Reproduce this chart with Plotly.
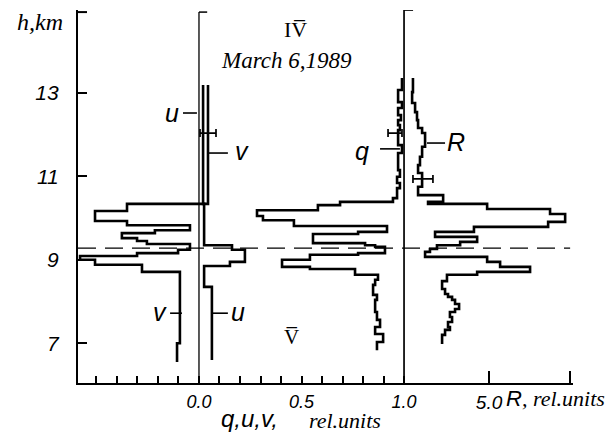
import plotly.graph_objects as go

# ---------------- data ----------------
# step profiles: values[i] holds between bounds[i] (top) and bounds[i+1] (bottom), h in km
V_BOUNDS = [13.19, 10.34, 10.17, 9.93, 9.83, 9.71, 9.64, 9.52, 9.45, 9.38, 9.24,
            9.16, 9.09, 9.00, 8.88, 8.71, 7.00, 6.55]
V_VALUES = [0.044, -0.351, -0.507, -0.351, -0.044, -0.215, -0.376, -0.302, -0.254,
            -0.044, -0.102, -0.302, -0.580, -0.507, -0.278, -0.093, -0.107]

U_BOUNDS = [13.19, 10.34, 9.35, 9.24, 8.95, 8.85, 8.35, 6.60]
U_VALUES = [0.020, 0.025, 0.161, 0.224, 0.151, 0.025, 0.063]

Q_BOUNDS = [13.36, 13.07, 12.78, 12.64, 12.47, 12.35, 12.23, 12.11, 11.75, 11.56,
            11.15, 10.99, 10.84, 10.72, 10.48, 10.39, 10.31, 10.19, 10.05, 9.95,
            9.81, 9.67, 9.62, 9.40, 9.35, 9.31, 9.16, 9.12, 9.00, 8.83, 8.78,
            8.64, 8.52, 8.40, 8.16, 8.04, 7.75, 7.56, 7.39, 7.22, 7.03, 6.83]
Q_VALUES = [0.990, 0.971, 0.990, 0.971, 0.985, 0.971, 0.980, 0.971, 0.990, 0.971,
            0.980, 0.966, 0.980, 0.966, 0.946, 0.688, 0.580, 0.283, 0.312, 0.463,
            0.917, 0.776, 0.556, 0.810, 0.859, 0.907, 0.776, 0.541, 0.405, 0.541,
            0.761, 0.873, 0.859, 0.849, 0.868, 0.859, 0.868, 0.883, 0.859, 0.898,
            0.868]

R_BOUNDS = [13.36, 13.02, 12.76, 12.54, 12.35, 12.16, 12.04, 11.71, 11.47, 11.27,
            11.08, 10.75, 10.55, 10.39, 10.34, 10.22, 10.10, 9.91, 9.79, 9.67,
            9.55, 9.43, 9.35, 9.26, 9.19, 9.07, 8.95, 8.83, 8.71, 8.64, 8.49,
            8.30, 8.18, 8.11, 8.04, 7.94, 7.82, 7.75, 7.63, 7.51, 7.39, 7.32,
            7.20, 6.98]
R_VALUES = [1.42, 1.38, 1.52, 1.61, 1.66, 1.85, 1.99, 1.85, 1.75, 1.66,
            1.85, 1.66, 2.84, 2.13, 4.91, 7.87, 8.58, 7.78, 4.29, 2.46,
            4.44, 3.64, 2.55, 2.22, 1.99, 4.91, 5.52, 6.93, 4.44, 3.02,
            2.79, 2.93, 3.07, 3.26, 3.40, 3.59, 3.40, 3.16, 3.26, 3.07,
            3.16, 2.93, 2.79]

# error bars: (height, centre, half-width)
V_ERR = (12.04, 0.044, 0.039)
Q_ERR = (12.04, 0.956, 0.034)
R_ERR = (10.94, 1.89, 0.47)

TROPOPAUSE_H = 9.28

X_TICKS = [-0.5, -0.4, -0.3, -0.2, -0.1, 0.0, 0.1, 0.2, 0.3, 0.4, 0.5, 0.6, 0.7, 0.8, 0.9, 1.0]
X_TICK_LABELS = ["", "", "", "", "", "0.0", "", "", "", "", "0.5", "", "", "", "", "1.0"]
R_TICKS = [5.0, 8.8]
R_TICK_LABELS = ["5.0", ""]
H_TICKS = [7, 9, 11, 13]

X_RANGE = [-0.59, 1.824]
R_RANGE = [-14.34, 8.95]
H_RANGE = [6.046, 14.99]

SANS = "Liberation Sans"
SERIF = "Liberation Serif"


def steps(bounds, values):
    xs, ys = [], []
    for i, v in enumerate(values):
        xs += [v, v]
        ys += [bounds[i], bounds[i + 1]]
    return xs, ys


fig = go.Figure()
LW = 2.6
for b, v, ax in [(V_BOUNDS, V_VALUES, "x"), (U_BOUNDS, U_VALUES, "x"),
                 (Q_BOUNDS, Q_VALUES, "x"), (R_BOUNDS, R_VALUES, "x2")]:
    xs, ys = steps(b, v)
    fig.add_trace(go.Scatter(x=xs, y=ys, mode="lines", xaxis=ax, yaxis="y",
                             line=dict(color="black", width=LW), hoverinfo="skip"))

for (h, c, e), ax in [(V_ERR, "x"), (Q_ERR, "x"), (R_ERR, "x2")]:
    fig.add_trace(go.Scatter(x=[c], y=[h], mode="markers", xaxis=ax, yaxis="y",
                             marker=dict(size=1, color="rgba(0,0,0,0)"),
                             error_x=dict(type="data", array=[e], visible=True,
                                          color="black", thickness=1.7, width=4),
                             hoverinfo="skip"))

shapes = []
# vertical reference axes at 0.0 and 1.0
shapes.append(dict(type="line", xref="x", yref="y", x0=0, x1=0, y0=H_RANGE[0], y1=14.94,
                   line=dict(color="black", width=1.3)))
shapes.append(dict(type="line", xref="x", yref="y", x0=0, x1=0.04, y0=14.94, y1=14.94,
                   line=dict(color="black", width=1.5)))
shapes.append(dict(type="line", xref="x", yref="y", x0=1.0, x1=1.0, y0=H_RANGE[0], y1=14.99,
                   line=dict(color="black", width=1.7)))
shapes.append(dict(type="line", xref="x", yref="y", x0=1.0, x1=1.044, y0=14.99, y1=14.99,
                   line=dict(color="black", width=1.7)))
shapes.append(dict(type="line", xref="x", yref="y", x0=X_RANGE[0], x1=X_RANGE[0] + 0.044,
                   y0=14.94, y1=14.94, line=dict(color="black", width=2)))
# tropopause dashed line
shapes.append(dict(type="line", xref="x", yref="y", x0=X_RANGE[0], x1=1.81,
                   y0=TROPOPAUSE_H, y1=TROPOPAUSE_H,
                   line=dict(color="black", width=1.3, dash="18px,9px")))

# curve labels with leader dashes
labels = [
    ("u", -0.132, 12.52, (-0.078, -0.01, 12.52)),
    ("v", 0.21, 11.61, (0.044, 0.141, 11.56)),
    ("v", -0.19, 7.75, (-0.141, -0.083, 7.72)),
    ("u", 0.19, 7.75, (0.063, 0.141, 7.72)),
    ("q", 0.795, 11.61, (0.883, 0.98, 11.66)),
    ("R", 1.254, 11.82, (1.112, 1.20, 11.80)),
]
annotations = []
for txt, x, y, (lx0, lx1, ly) in labels:
    annotations.append(dict(text=txt, x=x, y=y, xref="x", yref="y", showarrow=False,
                            xanchor="center", yanchor="middle",
                            font=dict(family=SANS, size=25, style="italic", color="black")))
    shapes.append(dict(type="line", xref="x", yref="y", x0=lx0, x1=lx1, y0=ly, y1=ly,
                       line=dict(color="black", width=1.6)))


def note(text, x, y, family, size, italic=True, xref="paper", yref="paper", xanchor="center"):
    return dict(text=text, x=x, y=y, xref=xref, yref=yref, showarrow=False,
                xanchor=xanchor, yanchor="middle",
                font=dict(family=family, size=size, style="italic" if italic else "normal",
                          color="black"))


annotations += [
    note("h,km", -0.077, 0.968, SERIF, 24),
    note("March 6,1989", 0.429, 13.77, SERIF, 23, xref="x", yref="y"),
    note("IV\u0305", 0.473, 14.53, SERIF, 22, italic=False, xref="x", yref="y"),
    note("V\u0305", 0.449, 7.15, SERIF, 21, italic=False, xref="x", yref="y"),
    note("q,u,v,", 0.347, -0.095, SANS, 24),
    note("rel.units", 0.540, -0.101, SERIF, 22),
    note('<span style="font-family:\'Liberation Sans\';font-size:22px">R</span>, rel.units',
         0.860, -0.042, SERIF, 22, xanchor="left"),
]

fig.update_layout(
    width=615, height=434,
    margin=dict(l=70, r=50, t=2, b=59),
    paper_bgcolor="white", plot_bgcolor="white",
    showlegend=False,
    xaxis=dict(range=X_RANGE, tickvals=X_TICKS, ticktext=X_TICK_LABELS, automargin=False,
               ticks="inside", ticklen=7, tickwidth=1.8, tickcolor="black",
               showline=True, linewidth=2.2, linecolor="black",
               showgrid=False, zeroline=False, ticklabelstandoff=1,
               tickfont=dict(family=SANS, size=18, style="italic", color="black")),
    xaxis2=dict(range=R_RANGE, overlaying="x", side="bottom", anchor="y", automargin=False,
                tickvals=R_TICKS, ticktext=R_TICK_LABELS,
                ticks="inside", ticklen=12, tickwidth=2, tickcolor="black",
                showline=False, showgrid=False, zeroline=False, ticklabelstandoff=6,
                tickfont=dict(family=SANS, size=19, style="italic", color="black")),
    yaxis=dict(range=H_RANGE, tickvals=H_TICKS, automargin=False,
               ticks="inside", ticklen=9, tickwidth=2, tickcolor="black",
               showline=True, linewidth=2.2, linecolor="black",
               showgrid=False, zeroline=False, ticklabelstandoff=13,
               tickfont=dict(family=SANS, size=21, style="italic", color="black")),
    shapes=shapes,
    annotations=annotations,
)

fig.write_html("out.html")
